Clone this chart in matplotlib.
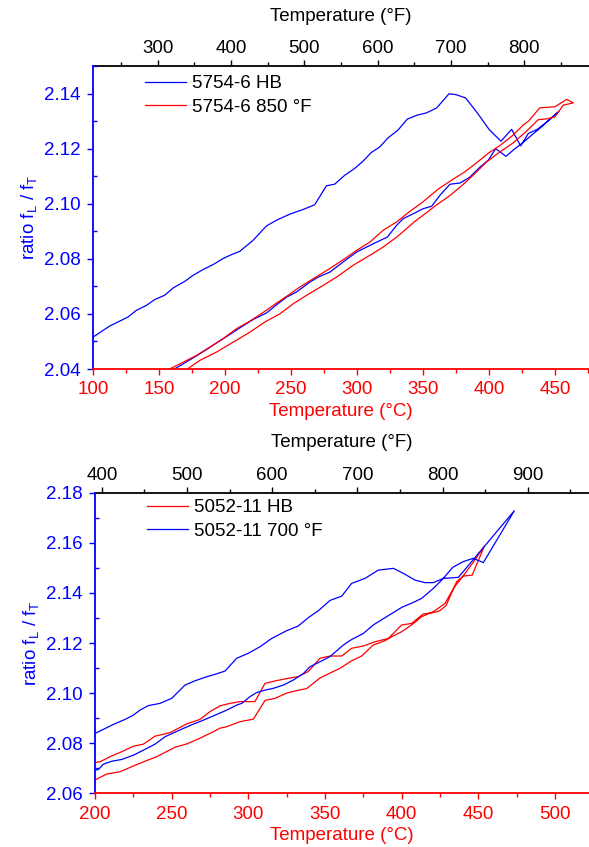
import matplotlib
matplotlib.use('Agg')
import matplotlib.pyplot as plt
from matplotlib.ticker import MultipleLocator, FixedLocator

plt.rcParams['font.family'] = ['Liberation Sans', 'DejaVu Sans']
plt.rcParams['font.size'] = 13.5
plt.rcParams['mathtext.default'] = 'regular'

# ------------------ data ------------------
# upper panel: 5754-6 HB (blue), heating then cooling
hb5754_temp = [100.0, 112.6, 126.5, 132.8, 140.4, 146.7, 154.3, 160.6, 169.4, 175.8,
               183.3, 190.9, 198.5, 204.8, 211.1, 221.2, 231.3, 238.9, 249.0, 259.1,
               267.9, 276.8, 283.1, 290.6, 298.2, 304.5, 310.8, 317.2, 323.5, 331.0,
               338.1, 345.2, 352.8, 360.4, 369.7, 375.0, 382.3, 391.1, 400.2, 409.1,
               417.2, 424.0, 429.8, 436.6, 444.9, 453.0,
               447.5, 439.9, 432.3, 424.8, 419.7, 412.9, 405.1, 399.5, 393.2, 385.6,
               378.0, 370.5, 362.9, 356.6, 350.2, 342.7, 335.1, 330.1, 323.0, 312.4,
               299.8, 289.6, 279.5, 270.7, 264.4, 254.3, 246.7, 239.2, 231.6, 221.4,
               211.4, 203.8, 193.7, 186.1, 176.0, 168.4, 160.8, 157.0]
hb5754_ratio = [2.0516, 2.0556, 2.0589, 2.0613, 2.0631, 2.0652, 2.0668, 2.0694, 2.0718, 2.0740,
                2.0761, 2.0779, 2.0801, 2.0815, 2.0827, 2.0867, 2.0919, 2.0940, 2.0962, 2.0979,
                2.0996, 2.1065, 2.1071, 2.1103, 2.1128, 2.1154, 2.1186, 2.1206, 2.1239, 2.1267,
                2.1307, 2.1321, 2.1330, 2.1348, 2.1399, 2.1396, 2.1384, 2.1330, 2.1269, 2.1227,
                2.1270, 2.1210, 2.1255, 2.1270, 2.1301, 2.1335,
                2.1313, 2.1279, 2.1249, 2.1218, 2.1200, 2.1172, 2.1200, 2.1158, 2.1133, 2.1097,
                2.1075, 2.1071, 2.1031, 2.0991, 2.0982, 2.0964, 2.0946, 2.0922, 2.0879, 2.0855,
                2.0825, 2.0789, 2.0752, 2.0734, 2.0716, 2.0680, 2.0661, 2.0634, 2.0604, 2.0580,
                2.0550, 2.0526, 2.0495, 2.0471, 2.0441, 2.0419, 2.0398, 2.0388]

# upper panel: 5754-6 850 F (red)
t850_temp = [168.5, 181.1, 193.7, 206.3, 218.9, 230.3, 241.7, 251.7, 261.9, 274.5,
             284.6, 297.2, 309.8, 319.9, 330.1, 343.9, 352.8, 360.4, 370.5, 380.5,
             389.4, 398.3, 408.3, 418.4, 428.6, 437.3, 443.7, 450.0, 456.3, 463.9,
             458.9, 450.0, 438.5, 430.0, 426.5, 417.5, 408.5, 400.0, 391.5, 381.5,
             371.5, 361.5, 350.0, 340.0, 330.1, 319.9, 309.8, 299.8, 289.6, 279.5,
             266.9, 256.8, 246.7, 239.2, 230.3, 218.9, 208.9, 198.7, 188.6, 178.6,
             168.4, 158.3, 155.0]
t850_ratio = [2.0390, 2.0432, 2.0462, 2.0498, 2.0534, 2.0571, 2.0601, 2.0637, 2.0668, 2.0704,
              2.0734, 2.0777, 2.0813, 2.0843, 2.0879, 2.0936, 2.0968, 2.0996, 2.1030, 2.1070,
              2.1110, 2.1152, 2.1188, 2.1221, 2.1264, 2.1305, 2.1308, 2.1315, 2.1358, 2.1366,
              2.1379, 2.1352, 2.1348, 2.1300, 2.1288, 2.1246, 2.1212, 2.1185, 2.1152, 2.1115,
              2.1085, 2.1053, 2.1007, 2.0972, 2.0934, 2.0904, 2.0861, 2.0831, 2.0797, 2.0765,
              2.0728, 2.0698, 2.0664, 2.0640, 2.0610, 2.0574, 2.0547, 2.0511, 2.0480, 2.0450,
              2.0425, 2.0401, 2.0390]

# lower panel: 5052-11 HB (red)
hb5052_temp = [200.0, 207.6, 216.3, 225.0, 232.6, 240.2, 252.2, 259.8, 268.5, 277.2,
               281.5, 285.9, 294.6, 303.3, 310.9, 317.4, 325.0, 331.5, 338.0, 346.7,
               353.3, 359.8, 367.4, 373.9, 381.5, 389.1, 393.5, 400.0, 406.5, 413.0,
               420.7, 428.3, 434.0, 441.0, 447.0, 454.0,
               446.0, 440.2, 435.9, 429.0, 425.0, 420.7, 414.1, 406.5, 400.0, 391.3,
               382.6, 375.0, 367.4, 360.9, 353.3, 346.7, 339.1, 332.6, 326.1, 318.5,
               310.9, 304.3, 294.6, 288.0, 281.5, 275.0, 268.5, 259.8, 248.9, 239.1,
               231.5, 225.0, 217.4, 209.8, 203.3, 200.0]
hb5052_ratio = [2.0653, 2.0677, 2.0686, 2.0709, 2.0728, 2.0746, 2.0784, 2.0797, 2.0820, 2.0846,
                2.0860, 2.0866, 2.0886, 2.0896, 2.0971, 2.0979, 2.1000, 2.1010, 2.1018, 2.1060,
                2.1080, 2.1099, 2.1129, 2.1148, 2.1192, 2.1209, 2.1225, 2.1245, 2.1272, 2.1305,
                2.1325, 2.1358, 2.1420, 2.1475, 2.1525, 2.1587,
                2.1471, 2.1467, 2.1445, 2.1350, 2.1329, 2.1321, 2.1316, 2.1278, 2.1272, 2.1218,
                2.1205, 2.1188, 2.1179, 2.1148, 2.1148, 2.1139, 2.1086, 2.1066, 2.1059, 2.1050,
                2.1039, 2.0966, 2.0966, 2.0959, 2.0949, 2.0926, 2.0895, 2.0877, 2.0842, 2.0828,
                2.0796, 2.0788, 2.0766, 2.0746, 2.0726, 2.0723]

# lower panel: 5052-11 700 F (blue)
t700_temp = [200.0, 205.4, 212.0, 219.6, 225.0, 229.3, 234.8, 242.4, 250.0, 258.7,
             265.2, 271.7, 278.3, 284.8, 292.4, 300.0, 307.6, 315.2, 325.0, 332.6,
             339.1, 345.7, 353.3, 360.9, 367.4, 376.1, 384.8, 394.6, 401.1, 408.7,
             415.2, 420.7, 427.2, 433.3, 440.2, 446.7, 453.3, 473.5,
             437.0, 427.2, 420.7, 413.0, 407.6, 400.0, 390.2, 381.5, 375.0, 367.4,
             362.0, 353.3, 346.7, 340.2, 335.9, 329.3, 322.8, 316.3, 310.9, 305.4,
             301.1, 295.7, 292.4, 285.9, 278.3, 270.7, 264.1, 257.6, 251.1, 245.7,
             239.1, 231.5, 225.0, 217.4, 210.9, 205.4, 202.2, 200.0]
t700_ratio = [2.0839, 2.0855, 2.0875, 2.0895, 2.0912, 2.0932, 2.0950, 2.0959, 2.0979, 2.1032,
              2.1049, 2.1063, 2.1075, 2.1088, 2.1139, 2.1159, 2.1185, 2.1218, 2.1249, 2.1268,
              2.1301, 2.1329, 2.1370, 2.1387, 2.1438, 2.1458, 2.1491, 2.1498, 2.1478, 2.1451,
              2.1441, 2.1441, 2.1458, 2.1502, 2.1525, 2.1538, 2.1521, 2.1728,
              2.1462, 2.1458, 2.1418, 2.1378, 2.1362, 2.1342, 2.1305, 2.1272, 2.1238, 2.1214,
              2.1192, 2.1146, 2.1125, 2.1105, 2.1078, 2.1052, 2.1032, 2.1019, 2.1012, 2.1002,
              2.0986, 2.0959, 2.0952, 2.0932, 2.0912, 2.0892, 2.0876, 2.0859, 2.0841, 2.0826,
              2.0796, 2.0772, 2.0752, 2.0735, 2.0728, 2.0716, 2.0695, 2.0692]

# top (Fahrenheit) tick values for each panel
top_f_major = [300, 400, 500, 600, 700, 800]
top_f_minor = [250, 350, 450, 550, 650, 750, 850]
bot_f_major = [400, 500, 600, 700, 800, 900]
bot_f_minor = [450, 550, 650, 750, 850, 950]


def c2f(c):
    return c * 9.0 / 5.0 + 32.0


def f2c(f):
    return (f - 32.0) * 5.0 / 9.0


def style_axes(ax, fmaj, fmin):
    ax.spines['right'].set_visible(False)
    ax.spines['top'].set_visible(False)
    ax.spines['left'].set_color('blue')
    ax.spines['bottom'].set_color('red')
    ax.spines['left'].set_linewidth(1.3)
    ax.spines['bottom'].set_linewidth(1.3)
    ax.xaxis.set_major_locator(MultipleLocator(50))
    ax.xaxis.set_minor_locator(MultipleLocator(25))
    ax.yaxis.set_major_locator(MultipleLocator(0.02))
    ax.yaxis.set_minor_locator(MultipleLocator(0.01))
    ax.tick_params(axis='x', which='major', direction='out', length=4.5, width=1,
                   color='red', labelcolor='red', pad=4.4)
    ax.tick_params(axis='x', which='minor', direction='out', length=3, width=1, color='red')
    ax.tick_params(axis='y', which='major', direction='out', length=4.5, width=1,
                   color='blue', labelcolor='blue', pad=4.2)
    ax.tick_params(axis='y', which='minor', direction='in', length=3, width=1, color='blue')
    ax.yaxis.set_major_formatter(plt.FormatStrFormatter('%.2f'))
    ax.set_xlabel('Temperature (°C)', color='red', labelpad=3)
    ax.set_ylabel('ratio f$_L$ / f$_T$', color='blue', labelpad=4)

    # Fahrenheit scale on top
    top = ax.secondary_xaxis('top', functions=(c2f, f2c))
    top.xaxis.set_major_locator(FixedLocator(fmaj))
    top.xaxis.set_minor_locator(FixedLocator(fmin))
    top.spines['top'].set_linewidth(1.3)
    top.tick_params(which='major', direction='out', length=4.5, width=1, pad=2)
    top.tick_params(which='minor', direction='out', length=3, width=1)
    top.set_xlabel('Temperature (°F)', labelpad=14)
    return top


fig = plt.figure(figsize=(5.89, 8.47), dpi=100)

# ------------------ upper panel ------------------
ax1 = fig.add_axes([0.158, 0.5643, 0.842, 0.3578])
ax1.plot(hb5754_temp, hb5754_ratio, color='blue', lw=0.9, label='5754-6 HB')
ax1.plot(t850_temp, t850_ratio, color='red', lw=0.9, label='5754-6 850 °F')
ax1.set_xlim(100, 475.8)
ax1.set_ylim(2.04, 2.15)
style_axes(ax1, top_f_major, top_f_minor)
ax1.legend(loc='upper left', bbox_to_anchor=(0.105, 0.97), frameon=False,
           borderpad=0, borderaxespad=0, handlelength=2.2, handletextpad=0.3,
           labelspacing=0.33)

# ------------------ lower panel ------------------
ax2 = fig.add_axes([0.1613, 0.0634, 0.8387, 0.3549])
ax2.plot(hb5052_temp, hb5052_ratio, color='red', lw=0.9, label='5052-11 HB')
ax2.plot(t700_temp, t700_ratio, color='blue', lw=0.9, label='5052-11 700 °F')
ax2.set_xlim(200, 522.2)
ax2.set_ylim(2.06, 2.18)
style_axes(ax2, bot_f_major, bot_f_minor)
ax2.legend(loc='upper left', bbox_to_anchor=(0.105, 0.978), frameon=False,
           borderpad=0, borderaxespad=0, handlelength=2.2, handletextpad=0.3,
           labelspacing=0.33)

fig.savefig('out.png', dpi=100)
